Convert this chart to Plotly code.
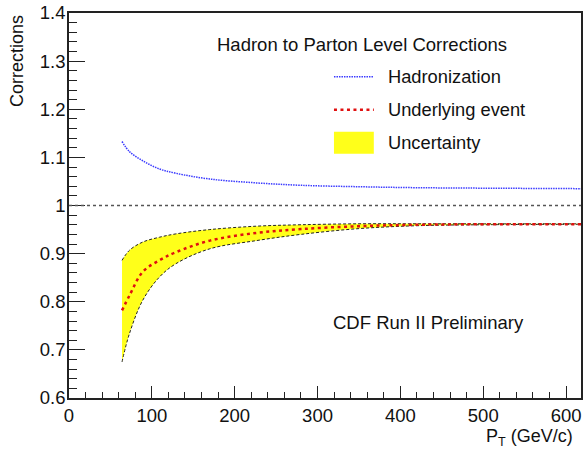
import plotly.graph_objects as go

# Transverse momentum points (GeV/c)
pt = [64, 73, 89, 109, 129, 170, 226, 280, 350, 420, 500, 618]

# Hadronization correction
hadronization = [1.133, 1.112, 1.093, 1.076, 1.067, 1.055, 1.047, 1.042, 1.039, 1.037, 1.036, 1.035]

# Underlying event correction and its uncertainty band
underlying = [0.782, 0.813, 0.862, 0.886, 0.903, 0.927, 0.943, 0.951, 0.957, 0.960, 0.961, 0.961]
ue_upper = [0.886, 0.907, 0.924, 0.934, 0.941, 0.950, 0.957, 0.960, 0.962, 0.962, 0.962, 0.962]
ue_lower = [0.675, 0.734, 0.803, 0.851, 0.879, 0.910, 0.927, 0.940, 0.952, 0.958, 0.960, 0.961]

legend_title = "Hadron to Parton Level Corrections"
legend_labels = ["Hadronization", "Underlying event", "Uncertainty"]
note = "CDF Run II Preliminary"

FONT = "Liberation Sans, Arial, Helvetica, sans-serif"
YELLOW = "#ffff1a"
BLUE = "#3a3aff"
RED = "#e01010"
INK = "#111111"

X_RANGE = [0, 618]
Y_RANGE = [0.6, 1.4]

fig = go.Figure()

# Uncertainty band: lower edge, then upper edge filled down to it
fig.add_trace(go.Scatter(
    x=pt, y=ue_lower, mode="lines", line=dict(color="#222222", width=1, dash="3px,2px", shape="spline"),
    showlegend=False, hoverinfo="skip"))
fig.add_trace(go.Scatter(
    x=pt, y=ue_upper, mode="lines", fill="tonexty", fillcolor=YELLOW,
    line=dict(color="#222222", width=1, dash="3px,2px", shape="spline"),
    showlegend=False, hoverinfo="skip"))

# Central underlying-event curve
fig.add_trace(go.Scatter(
    x=pt, y=underlying, mode="lines", line=dict(color=RED, width=2.5, dash="3px,3.5px", shape="spline"),
    showlegend=False))

# Hadronization curve
fig.add_trace(go.Scatter(
    x=pt, y=hadronization, mode="lines", line=dict(color=BLUE, width=1.5, dash="1.5px,1px", shape="spline"),
    showlegend=False))

shapes = [
    # unity reference line
    dict(type="line", xref="paper", yref="y", x0=0, x1=1, y0=1.0, y1=1.0,
         line=dict(color="#555555", width=1.3, dash="3px,3px")),
]

# Hand-drawn legend samples (pixel placement converted to paper units)
L, R, T, B = 69, 583, 12, 398
def px(xp):
    return (xp - L) / (R - L)
def py(yp):
    return (B - yp) / (B - T)

shapes += [
    dict(type="line", xref="paper", yref="paper", x0=px(335), x1=px(375), y0=py(76), y1=py(76),
         line=dict(color=BLUE, width=1.5, dash="1.5px,1px")),
    dict(type="line", xref="paper", yref="paper", x0=px(335), x1=px(375), y0=py(109), y1=py(109),
         line=dict(color=RED, width=2.5, dash="3px,3.5px")),
    dict(type="rect", xref="paper", yref="paper", x0=px(335), x1=px(375), y0=py(153), y1=py(131),
         fillcolor=YELLOW, line=dict(width=0)),
]

annotations = [
    dict(text=legend_title, xref="paper", yref="paper", x=px(216), y=py(44),
         xanchor="left", yanchor="middle", showarrow=False, font=dict(size=18.5, color=INK)),
    dict(text=legend_labels[0], xref="paper", yref="paper", x=px(387), y=py(76),
         xanchor="left", yanchor="middle", showarrow=False, font=dict(size=18.3, color=INK)),
    dict(text=legend_labels[1], xref="paper", yref="paper", x=px(387), y=py(109),
         xanchor="left", yanchor="middle", showarrow=False, font=dict(size=18.3, color=INK)),
    dict(text=legend_labels[2], xref="paper", yref="paper", x=px(387), y=py(142),
         xanchor="left", yanchor="middle", showarrow=False, font=dict(size=18.3, color=INK)),
    dict(text=note, xref="paper", yref="paper", x=px(332), y=py(322),
         xanchor="left", yanchor="middle", showarrow=False, font=dict(size=18.5, color=INK)),
    # axis titles
    dict(text="Corrections", xref="paper", yref="paper", x=px(17), y=py(60),
         xanchor="center", yanchor="middle", textangle=-90, showarrow=False,
         font=dict(size=18, color=INK)),
    dict(text="P<sub>T</sub> (GeV/c)", xref="paper", yref="paper", x=px(577), y=py(438),
         xanchor="right", yanchor="middle", showarrow=False, font=dict(size=18, color=INK)),
]

axis_common = dict(
    showgrid=False, zeroline=False, showline=True, linecolor="#222222", linewidth=1.5,
    mirror=True, ticks="inside", tickcolor="#222222", tickwidth=1.2,
    tickfont=dict(size=18.5, color=INK, family=FONT),
)

fig.update_xaxes(range=X_RANGE, tickmode="array", tickvals=[0, 100, 200, 300, 400, 500, 600],
                 ticklen=12, minor=dict(ticks="inside", dtick=20, ticklen=6, tickcolor="#222222", tickwidth=1),
                 **axis_common)
fig.update_yaxes(range=Y_RANGE, tickmode="array", tickvals=[0.6, 0.7, 0.8, 0.9, 1.0, 1.1, 1.2, 1.3, 1.4],
                 ticktext=["0.6", "0.7", "0.8", "0.9", "1", "1.1", "1.2", "1.3", "1.4"],
                 ticklen=16, ticklabelstandoff=-2,
                 minor=dict(ticks="inside", dtick=0.02, ticklen=8, tickcolor="#222222", tickwidth=1),
                 **axis_common)

fig.update_layout(
    width=585, height=453,
    margin=dict(l=69, r=2, t=12, b=55),
    paper_bgcolor="white", plot_bgcolor="white",
    font=dict(family=FONT, color=INK),
    shapes=shapes, annotations=annotations,
    showlegend=False,
)

fig.write_html("out.html")
